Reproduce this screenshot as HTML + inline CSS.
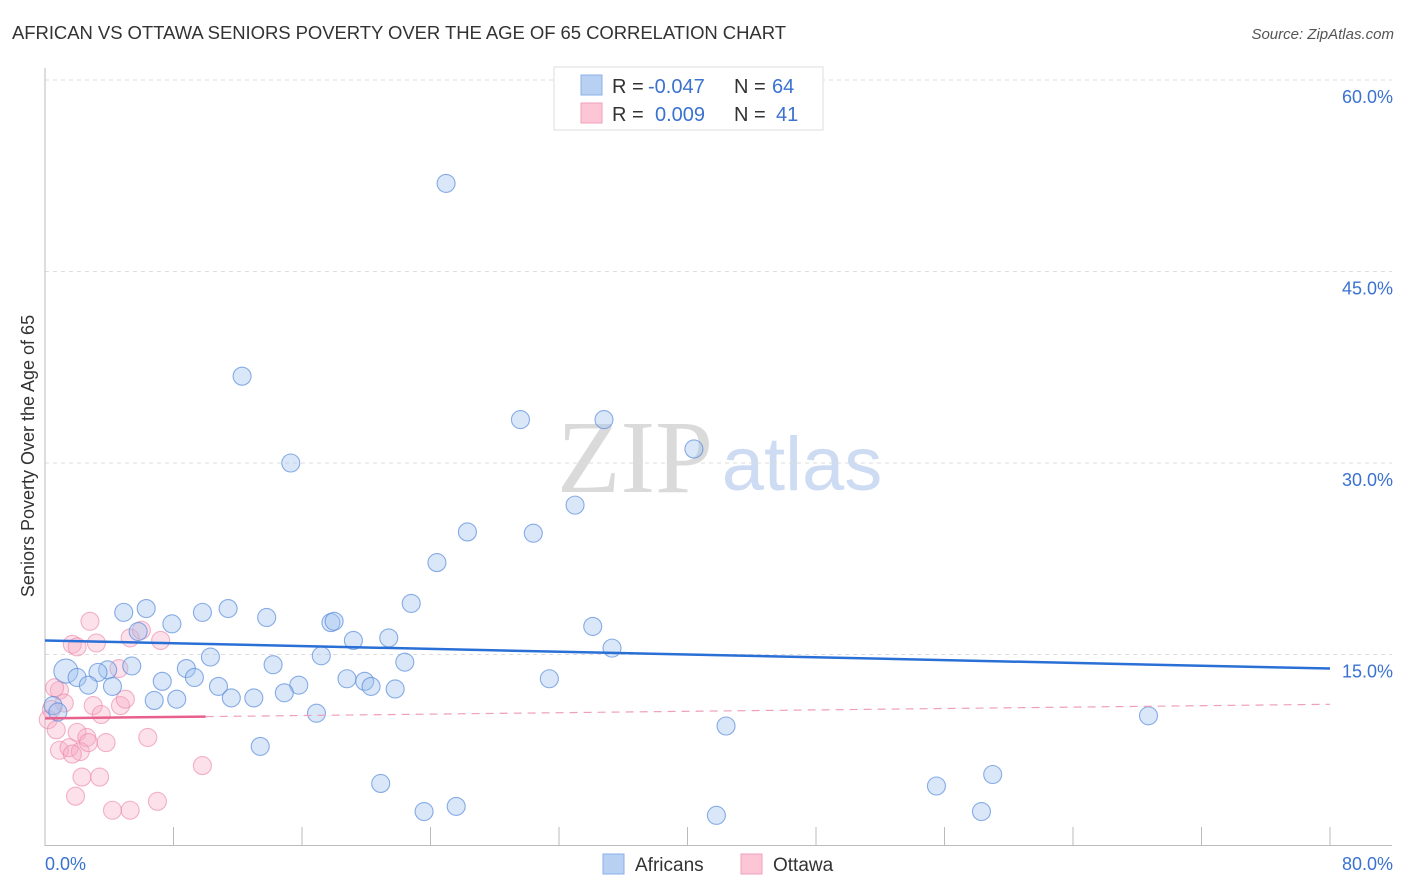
<!DOCTYPE html>
<html><head><meta charset="utf-8"><style>
body{margin:0;background:#fff;font-family:"Liberation Sans",sans-serif;}
svg{display:block}
</style></head><body>
<svg id="chart" width="1406" height="892">
<text x="12" y="39" font-size="18.5" fill="#333" textLength="774">AFRICAN VS OTTAWA SENIORS POVERTY OVER THE AGE OF 65 CORRELATION CHART</text>
<text x="1394" y="39" font-size="15" fill="#555" font-style="italic" text-anchor="end">Source: ZipAtlas.com</text>
<text x="635" y="492" font-size="104" fill="#dadada" font-family="Liberation Serif,serif" text-anchor="middle">ZIP</text>
<text x="802" y="490" font-size="76" fill="#cddcf3" text-anchor="middle">atlas</text>
<g id="grid"></g>
<g id="axes"></g>
<g id="pts"></g>
<g id="trends"></g>
<text transform="translate(34,456) rotate(-90)" font-size="18" fill="#333" text-anchor="middle">Seniors Poverty Over the Age of 65</text>
<g>
<rect x="554" y="67" width="269" height="63" fill="#fff" stroke="#ddd"/>
<rect x="581" y="75" width="21" height="20" fill="#b8d1f3" stroke="#8ab0e8"/>
<rect x="581" y="103" width="21" height="20" fill="#fcc6d6" stroke="#f0a0b8"/>
<text x="612" y="93" font-size="20" fill="#333">R = <tspan x="648" fill="#3a72d0">-0.047</tspan><tspan x="734">N = </tspan><tspan x="772" fill="#3a72d0">64</tspan></text>
<text x="612" y="121" font-size="20" fill="#333">R = <tspan x="655" fill="#3a72d0">0.009</tspan><tspan x="734">N = </tspan><tspan x="776" fill="#3a72d0">41</tspan></text>
</g>
<g>
<rect x="603" y="854" width="21" height="20" fill="#b8d1f3" stroke="#8ab0e8"/>
<text x="635" y="871" font-size="19" fill="#333">Africans</text>
<rect x="741" y="854" width="21" height="20" fill="#fcc6d6" stroke="#f0a0b8"/>
<text x="773" y="871" font-size="19" fill="#333">Ottawa</text>
</g>
</svg>
<script>
const yTicks=[15,30,45,60];
const yTickLabels=["15.0%","30.0%","45.0%","60.0%"];
const xTickLabels=["0.0%","80.0%"];
const africansX=[24.97,12.27,15.3,29.6,34.8,40.4,33.0,26.3,30.4,24.4,22.8,4.9,6.3,9.8,11.4,13.8,17.8,18.0,7.9,5.8,19.2,21.4,34.1,35.3,10.3,17.2,22.4,5.4,3.9,1.3,8.8,14.2,3.3,9.3,2.0,2.7,7.3,18.8,19.9,20.3,31.4,4.2,10.8,15.8,21.8,14.9,11.6,13.0,6.8,8.2,0.5,0.8,16.9,68.7,42.4,13.4,20.9,59.0,55.5,23.6,25.6,41.8,58.3];
const africansY=[51.9,36.8,30.0,33.4,33.4,31.1,26.7,24.6,24.5,22.2,19.0,18.3,18.6,18.3,18.6,17.9,17.5,17.6,17.4,16.8,16.1,16.3,17.2,15.5,14.8,14.9,14.4,14.1,13.8,13.7,13.9,14.2,13.6,13.2,13.2,12.6,12.9,13.1,12.9,12.5,13.1,12.5,12.5,12.6,12.3,12.0,11.6,11.6,11.4,11.5,11.0,10.5,10.4,10.2,9.4,7.8,4.9,5.6,4.7,2.7,3.1,2.4,2.7];
const ottawaX=[2.8,1.7,2.0,3.2,5.3,6.0,7.2,4.6,0.9,1.2,0.4,0.2,3.0,3.5,4.7,5.0,0.7,2.0,2.6,0.9,1.5,2.2,1.7,2.7,3.8,6.4,9.8,2.3,3.4,1.9,4.2,5.3,7.0,0.6];
const ottawaY=[17.6,15.8,15.6,15.9,16.3,16.9,16.1,13.9,12.2,11.2,10.7,9.9,11.0,10.3,11.0,11.5,9.1,8.9,8.5,7.5,7.7,7.4,7.2,8.1,8.1,8.5,6.3,5.4,5.4,3.9,2.8,2.8,3.5,12.4];
const africanTrend=[16.1,13.9];
const ottawaTrend=[10.0,11.1];
const NS="http://www.w3.org/2000/svg";
const X0=45,X1=1330,Y0=846,YPER=191.5/15;
function sx(v){return X0+(v/80)*(X1-X0);}
function sy(v){return Y0-v*YPER;}
function mk(tag,attrs,parent){const e=document.createElementNS(NS,tag);for(const k in attrs)e.setAttribute(k,attrs[k]);document.getElementById(parent).appendChild(e);return e;}
yTicks.forEach((t,i)=>{
 const g=mk('line',{x1:X0,x2:1392,y1:sy(t),y2:sy(t),stroke:'#ddd','stroke-dasharray':'4,4'},'grid');
 
 
 const l=mk('text',{x:1393,y:sy(t)+23,'font-size':18,fill:'#3a72d0','text-anchor':'end'},'axes');
 l.textContent=yTickLabels[i];
 
 
});
let a=mk('line',{x1:X0,x2:X0,y1:68,y2:846,stroke:'#bbb'},'axes');


a=mk('line',{x1:X0,x2:1392,y1:845.5,y2:845.5,stroke:'#bbb'},'axes');


for(let i=0;i<=10;i++){
 const t=mk('line',{x1:sx(i*8),x2:sx(i*8),y1:827,y2:846,stroke:'#bbb'},'axes');
 
 
}
[[0,'start',45],[80,'end',1393]].forEach((d,i)=>{
 const t=mk('text',{x:d[2],y:870,'font-size':18,fill:'#3a72d0','text-anchor':d[1]},'axes');
 t.textContent=xTickLabels[i];
 
 
});
ottawaX.forEach((v,i)=>{
 const c=mk('circle',{cx:sx(v),cy:sy(ottawaY[i]),r:9,fill:'rgba(247,170,195,0.35)',stroke:'rgba(236,140,170,0.65)','stroke-width':1.1},'pts');
 
 
});
africansX.forEach((v,i)=>{
 const c=mk('circle',{cx:sx(v),cy:sy(africansY[i]),r:(i==29?12:9),fill:'rgba(160,196,240,0.4)',stroke:'rgba(90,140,220,0.7)','stroke-width':1.1},'pts');
 
 
});
let tl=mk('line',{x1:sx(0),x2:sx(80),y1:sy(africanTrend[0]),y2:sy(africanTrend[1]),stroke:'#2a6fd6','stroke-width':2.5},'trends');


const pm=(ottawaTrend[1]-ottawaTrend[0])/80;
tl=mk('line',{x1:sx(0),x2:sx(10),y1:sy(ottawaTrend[0]),y2:sy(ottawaTrend[0]+pm*10),stroke:'#e8608c','stroke-width':2.5},'trends');


tl=mk('line',{x1:sx(10),x2:sx(80),y1:sy(ottawaTrend[0]+pm*10),y2:sy(ottawaTrend[1]),stroke:'#eea0b8','stroke-width':1.2,'stroke-dasharray':'8,6'},'trends');


</script>
</body></html>
